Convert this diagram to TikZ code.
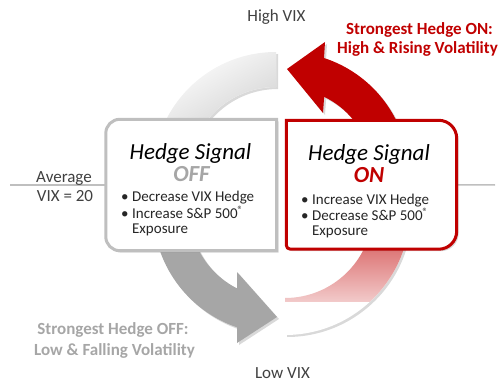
\documentclass[tikz,border=0pt]{standalone}
\usepackage{fontspec}
\setmainfont{Carlito}
\usetikzlibrary{calc,shadows}
\definecolor{hedgered}{HTML}{C00000}
\definecolor{hedgegray}{HTML}{A6A6A6}
\definecolor{boxgray}{HTML}{BFBFBF}
\definecolor{labelgray}{HTML}{404040}
\begin{document}
\begin{tikzpicture}[x=1pt,y=1pt,
    vixlabel/.style={text=labelgray,font=\fontsize{17}{20}\selectfont,inner sep=0pt,anchor=base},
    note/.style={font=\fontsize{17}{20}\selectfont\bfseries,inner sep=0pt,anchor=base},
    title/.style={font=\fontsize{23}{23}\selectfont\itshape,inner sep=0pt,anchor=base},
    bullets/.style={font=\fontsize{15}{14.5}\selectfont,text=black!85,inner sep=0pt,anchor=base west},
    sigbox/.style={rectangle,inner sep=0pt},
    softshadow/.style={drop shadow={opacity=0.3,shadow xshift=2pt,shadow yshift=-2pt}},
  ]
  \useasboundingbox (0,0) rectangle (501,381);
  % arc centres
  \coordinate (g1) at (276,206);
  \coordinate (r1) at (286,206);
  \coordinate (g2) at (277,171);
  \coordinate (r2) at (285,171);

  % upper gray fade
  \fill[white,softshadow] ($(g1)+(180:88)$) arc[start angle=180,end angle=90,radius=88]
    -- ($(g1)+(90:123)$) arc[start angle=90,end angle=180,radius=123] -- cycle;
  \path[path picture={\shade[top color=white,bottom color=black!24,shading angle=30] (150,250) rectangle (282,332);}]
    ($(g1)+(180:88)$) arc[start angle=180,end angle=90,radius=88]
    -- ($(g1)+(90:123)$) arc[start angle=90,end angle=180,radius=123] -- cycle;

  % upper red arrow
  \fill[hedgered,softshadow] ($(r1)+(15:87)$) arc[start angle=15,end angle=64,radius=87]
    -- (323,268) -- (287,312) -- (325,339)
    -- ($(r1)+(72:123)$) arc[start angle=72,end angle=15,radius=123] -- cycle;

  % lower gray arrow
  \fill[hedgegray,softshadow] ($(g2)+(180:124)$) arc[start angle=180,end angle=251.2,radius=124]
    -- (237,38) -- (277,64) -- (237,109)
    -- ($(g2)+(243:88)$) arc[start angle=243,end angle=180,radius=88] -- cycle;

  % lower red fade
  \fill[white,softshadow] ($(r2)+(270:88)$) arc[start angle=270,end angle=360,radius=88]
    -- ($(r2)+(0:125)$) arc[start angle=0,end angle=-90,radius=125] -- cycle;
  \path[path picture={\shade[top color=hedgered!78,bottom color=white] (280,80) rectangle (412,134);}]
    ($(r2)+(270:88)$) arc[start angle=270,end angle=360,radius=88]
    -- ($(r2)+(0:125)$) arc[start angle=0,end angle=-90,radius=125] -- cycle;

  % boxes
  \node[sigbox,minimum width=170.5,minimum height=131] (offbox) at (191.25,196) {};
  \node[sigbox,minimum width=170,minimum height=128.5] (onbox) at (371.5,196.25) {};
  \coordinate (avgleft) at (10,196);
  \coordinate (avgright) at (495,196);
  \draw[boxgray,line width=1.5] (avgleft) -- (offbox.west);
  \draw[boxgray,line width=1.5] (onbox.east) -- (avgright);

  \draw[boxgray,line width=3,fill=white,softshadow] (offbox.north east)
    -- ([xshift=14pt]offbox.north west) arc[start angle=90,end angle=180,radius=14pt]
    -- ([yshift=14pt]offbox.south west) arc[start angle=180,end angle=270,radius=14pt]
    -- (offbox.south east) -- cycle;
  \draw[hedgered,line width=3,fill=white,softshadow] (onbox.north west)
    -- ([xshift=-18pt]onbox.north east) arc[start angle=90,end angle=0,radius=18pt]
    -- ([yshift=18pt]onbox.south east) arc[start angle=0,end angle=-90,radius=18pt]
    -- ([xshift=4pt]onbox.south west) arc[start angle=-90,end angle=-180,radius=4pt]
    -- cycle;

  % box texts
  \node[title] (offtitle) at (190.5,222) {Hedge Signal};
  \node[title,font=\fontsize{23}{23}\selectfont\bfseries\itshape,text=hedgegray] (offword) at (191.5,200) {OFF};
  \node[title] (ontitle) at (369,221) {Hedge Signal};
  \node[title,font=\fontsize{23}{23}\selectfont\bfseries\itshape,text=hedgered] (onword) at (369,199) {ON};
  \node[bullets] (offlist) at (121,179) {\begin{tabular}[t]{@{}l@{\hspace{3.5pt}}l@{}}
    •&Decrease VIX Hedge\\ •&Increase S\&P 500\textsuperscript{®}\\ &Exposure\end{tabular}};
  \node[bullets] (onlist) at (301,177) {\begin{tabular}[t]{@{}l@{\hspace{3.5pt}}l@{}}
    •&Increase VIX Hedge\\ •&Decrease S\&P 500\textsuperscript{®}\\ &Exposure\end{tabular}};

  % outer labels
  \node[vixlabel] (highvix) at (276.5,359) {High VIX};
  \node[vixlabel] (lowvix) at (282.5,3) {Low VIX};
  \node[vixlabel] (average) at (64,199) {Average};
  \node[vixlabel] (vixavg) at (65,179) {VIX = 20};
  \node[note,text=hedgered] (onnote) at (419.5,346) {Strongest Hedge ON:};
  \node[note,text=hedgered] (onnotetwo) at (417.5,327) {High \& Rising Volatility};
  \node[note,text=hedgegray] (offnote) at (113,47) {Strongest Hedge OFF:};
  \node[note,text=hedgegray] (offnotetwo) at (114.5,26) {Low \& Falling Volatility};
\end{tikzpicture}
\end{document}
